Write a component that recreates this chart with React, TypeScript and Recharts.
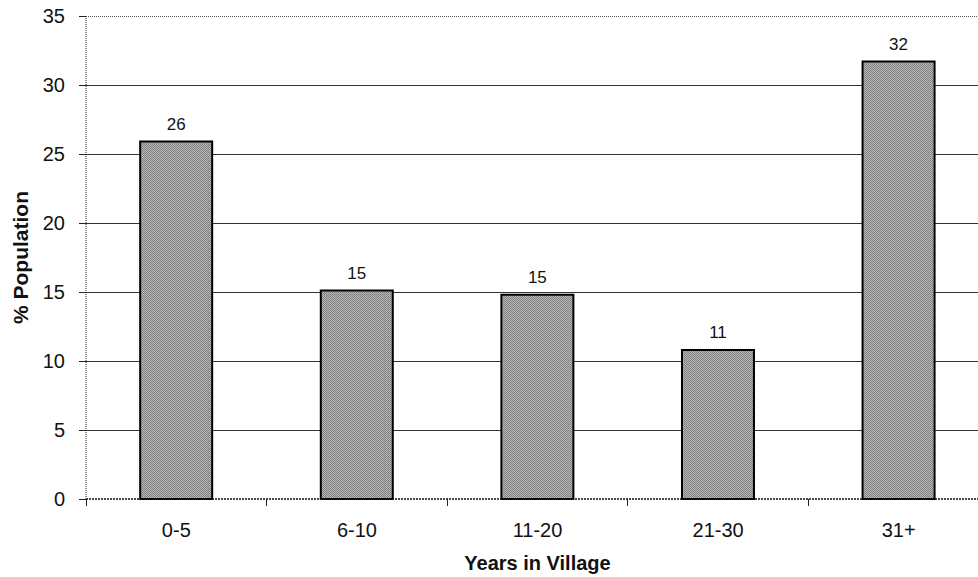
import React from 'react';
import { BarChart, Bar, XAxis, YAxis, CartesianGrid, LabelList } from 'recharts';

const categories = ['0-5', '6-10', '11-20', '21-30', '31+'];
const populationPct = [25.9, 15.1, 14.8, 10.8, 31.7];
const yTicks = [0, 5, 10, 15, 20, 25, 30, 35];
const xTitle = 'Years in Village';
const yTitle = '% Population';

const data = categories.map((c, i) => ({ name: c, value: populationPct[i] }));

const CHART_W = 1000;
const CHART_H = 577;
const MARGIN = { top: 16, right: 11, bottom: 0, left: 0 };
const YAXIS_W = 86;
const XAXIS_H = 78;
const PLOT_TOP = MARGIN.top;
const PLOT_BOTTOM = CHART_H - MARGIN.bottom - XAXIS_H;
const BAND = (CHART_W - MARGIN.left - MARGIN.right - YAXIS_W) / categories.length;
const FONT = '"Liberation Sans", Arial, Helvetica, sans-serif';

const renderHLine = (props: any) => {
  const { x1, x2, y1, y2, index } = props;
  const isTop = Math.abs(y1 - PLOT_TOP) < 1;
  const isBottom = Math.abs(y1 - PLOT_BOTTOM) < 1;
  if (isBottom) return <g key={`h-${index}`} />;
  return (
    <line
      key={`h-${index}`}
      x1={x1}
      x2={x2}
      y1={y1}
      y2={y2}
      stroke={isTop ? '#555' : '#333'}
      strokeWidth={1}
      shapeRendering="crispEdges"
      strokeDasharray={isTop ? '1 1' : undefined}
    />
  );
};

const XTick = (props: any) => {
  const { x, payload } = props;
  const half = payload && typeof payload.offset === 'number' && payload.offset > 0 ? payload.offset : BAND / 2;
  const bx = x - half;
  return (
    <g>
      <line
        x1={bx}
        x2={bx}
        y1={PLOT_BOTTOM}
        y2={PLOT_BOTTOM + 7}
        stroke="#222"
        strokeWidth={1}
        shapeRendering="crispEdges"
      />
      <text x={x} y={PLOT_BOTTOM + 38} textAnchor="middle" fontFamily={FONT} fontSize={20} fill="#111">
        {payload.value}
      </text>
    </g>
  );
};

const XTitle = (props: any) => {
  const vb = props.viewBox || {};
  return (
    <text
      x={vb.x + vb.width / 2}
      y={vb.y + 71}
      textAnchor="middle"
      fontFamily={FONT}
      fontWeight="bold"
      fontSize={20}
      fill="#111"
    >
      {xTitle}
    </text>
  );
};

const YTitle = (props: any) => {
  const vb = props.viewBox || {};
  const cx = 28;
  const cy = vb.y + vb.height / 2;
  return (
    <text
      x={cx}
      y={cy}
      transform={`rotate(-90 ${cx} ${cy})`}
      textAnchor="middle"
      fontFamily={FONT}
      fontWeight="bold"
      fontSize={21}
      fill="#111"
    >
      {yTitle}
    </text>
  );
};

export default function App() {
  return (
    <div
      style={{
        position: 'absolute',
        left: 0,
        top: 0,
        width: 978,
        height: 577,
        overflow: 'hidden',
        background: '#fff',
      }}
    >
      <BarChart width={CHART_W} height={CHART_H} data={data} margin={MARGIN} barCategoryGap="30%">
        <defs>
          <pattern id="dither" width="2" height="2" patternUnits="userSpaceOnUse">
            <rect x="0" y="0" width="2" height="2" fill="#b6b6b6" />
            <rect x="0" y="0" width="1" height="1" fill="#7a7a7a" />
            <rect x="1" y="1" width="1" height="1" fill="#888" />
          </pattern>
        </defs>
        <CartesianGrid vertical={false} horizontal={renderHLine} />
        <XAxis
          dataKey="name"
          height={XAXIS_H}
          tickLine={false}
          axisLine={{ stroke: '#111', strokeWidth: 1.3, strokeDasharray: '2 1' }}
          tick={<XTick />}
          interval={0}
          label={{ content: <XTitle /> }}
        />
        <YAxis
          width={YAXIS_W}
          domain={[0, 35]}
          ticks={yTicks}
          interval={0}
          tickSize={7}
          tickMargin={14}
          axisLine={{ stroke: '#222', strokeDasharray: '1 1' }}
          tickLine={{ stroke: '#222', shapeRendering: 'crispEdges' }}
          tick={{ fontFamily: FONT, fontSize: 20, fill: '#111' }}
          label={{ content: <YTitle /> }}
        />
        <Bar
          dataKey="value"
          fill="url(#dither)"
          stroke="#000"
          strokeWidth={2}
          isAnimationActive={false}
        >
          <LabelList
            dataKey="value"
            position="top"
            offset={12}
            formatter={(v: any) => Math.round(Number(v))}
            style={{ fontFamily: FONT, fontSize: 17, fill: '#111' }}
          />
        </Bar>
      </BarChart>
    </div>
  );
}
